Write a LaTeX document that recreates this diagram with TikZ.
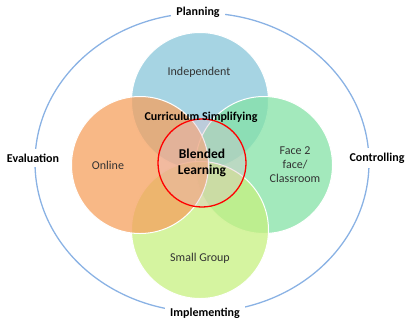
\documentclass[tikz,border=0pt]{standalone}
\usepackage{fontspec}
\setmainfont{Carlito}
\usepackage{tikz}
\definecolor{indepblue}{RGB}{136,198,218}
\definecolor{onlineorange}{RGB}{246,160,94}
\definecolor{facegreen}{RGB}{132,226,166}
\definecolor{grouplime}{RGB}{199,240,128}
\definecolor{cycleblue}{RGB}{138,178,228}
\definecolor{hubpink}{RGB}{230,190,205}
\definecolor{darktext}{RGB}{50,50,50}
\tikzset{
  blob/.style={circle,draw=white,line width=1pt,fill opacity=0.75,inner sep=0pt,minimum size=137pt},
  phase/.style={font=\bfseries\fontsize{12}{14}\selectfont,fill=white,inner xsep=5pt,inner ysep=5pt},
  mode/.style={font=\fontsize{12}{14}\selectfont,text=darktext,align=center},
}

\begin{document}
\begin{tikzpicture}[x=1pt,y=-1pt]
      \useasboundingbox (0,0) rectangle (406,322);

      \draw[cycleblue,line width=1.3pt] (202,162.5) ellipse [x radius=167pt,y radius=149.5pt];
      \node[phase] (planning)     at (198,12)  {Planning};
      \node[phase] (controlling)  at (377,158) {Controlling};
      \node[phase] (implementing) at (205,313) {Implementing};
      \node[phase] (evaluation)   at (33,158)  {Evaluation};

      \node[blob,fill=indepblue]    (independent) at (200,101) {};
      \node[blob,fill=facegreen]    (face)        at (264,165) {};
      \node[blob,fill=grouplime]    (group)       at (200,230) {};
      \node[blob,fill=onlineorange] (online)      at (140,165) {};

      \node[mode] (independent-t) at (199,72)  {Independent};
      \node[mode] (face-t)        at (295,165) {Face 2\\face/\\Classroom};
      \node[mode] (group-t)       at (200,258) {Small Group};
      \node[mode] (online-t)      at (108,165) {Online};

      \node[circle,draw=red,line width=1.3pt,fill=hubpink,fill opacity=0.35,text opacity=1,
            minimum size=88pt,align=center,font=\bfseries\fontsize{13.5}{16}\selectfont]
            (blended) at (202,163) {Blended\\Learning};
      \node[font=\bfseries\fontsize{12}{14}\selectfont] (curriculum) at (201,117) {Curriculum Simplifying};
    \end{tikzpicture}
\end{document}
